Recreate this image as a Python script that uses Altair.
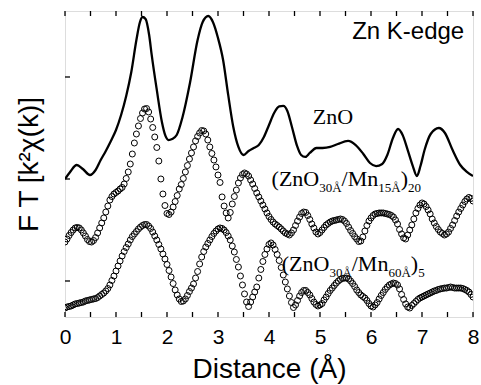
import altair as alt
import pandas as pd

# ---------------- data ----------------
R_STEP = 0.04
r_grid = [round(R_STEP * i, 2) for i in range(201)]  # sampling grid of R (Å)

# (ZnO30Å/Mn15Å)20  – open circles, offset curve
s2_v = [
    0.382, 0.412, 0.446, 0.475, 0.500, 0.520, 0.525, 0.520, 0.500, 0.471,
    0.441, 0.407, 0.387, 0.382, 0.397, 0.426, 0.471, 0.520, 0.569, 0.618,
    0.676, 0.735, 0.794, 0.828, 0.853, 0.868, 0.882, 0.902, 0.917, 0.951,
    1.005, 1.069, 1.147, 1.245, 1.353, 1.441, 1.520, 1.593, 1.647, 1.686,
    1.691, 1.657, 1.588, 1.505, 1.412, 1.309, 1.176, 1.000, 0.853, 0.740,
    0.662, 0.652, 0.676, 0.725, 0.779, 0.838, 0.902, 0.946, 1.005, 1.069,
    1.132, 1.196, 1.255, 1.314, 1.373, 1.417, 1.451, 1.475, 1.471, 1.441,
    1.382, 1.314, 1.250, 1.186, 1.118, 1.039, 0.966, 0.824, 0.735, 0.667,
    0.618, 0.672, 0.755, 0.828, 0.892, 0.961, 1.010, 1.044, 1.059, 1.049,
    1.029, 0.990, 0.951, 0.907, 0.863, 0.824, 0.784, 0.745, 0.706, 0.667,
    0.632, 0.603, 0.578, 0.559, 0.544, 0.529, 0.510, 0.490, 0.471, 0.461,
    0.451, 0.471, 0.500, 0.544, 0.588, 0.627, 0.662, 0.676, 0.672, 0.642,
    0.603, 0.559, 0.520, 0.480, 0.461, 0.475, 0.500, 0.525, 0.549, 0.564,
    0.578, 0.588, 0.593, 0.598, 0.603, 0.608, 0.603, 0.588, 0.564, 0.529,
    0.495, 0.466, 0.436, 0.412, 0.387, 0.392, 0.431, 0.490, 0.544, 0.588,
    0.618, 0.642, 0.657, 0.662, 0.667, 0.667, 0.667, 0.662, 0.657, 0.652,
    0.642, 0.627, 0.598, 0.559, 0.505, 0.461, 0.422, 0.412, 0.451, 0.500,
    0.549, 0.608, 0.667, 0.711, 0.745, 0.765, 0.755, 0.730, 0.696, 0.657,
    0.608, 0.569, 0.534, 0.505, 0.480, 0.466, 0.451, 0.461, 0.480, 0.515,
    0.549, 0.593, 0.637, 0.676, 0.711, 0.745, 0.779, 0.804, 0.819, 0.809,
    0.784,
]

# (ZnO30Å/Mn60Å)5 – open circles, bottom curve
s3_v = [
    -0.265, -0.255, -0.250, -0.245, -0.235, -0.225, -0.221, -0.216, -0.211, -0.206,
    -0.196, -0.191, -0.186, -0.181, -0.176, -0.172, -0.162, -0.147, -0.132, -0.118,
    -0.098, -0.074, -0.039, 0.005, 0.049, 0.098, 0.147, 0.196, 0.245, 0.289,
    0.328, 0.363, 0.402, 0.436, 0.461, 0.485, 0.510, 0.529, 0.544, 0.554,
    0.554, 0.539, 0.515, 0.480, 0.441, 0.402, 0.358, 0.314, 0.265, 0.216,
    0.162, 0.103, 0.039, -0.025, -0.088, -0.137, -0.176, -0.201, -0.196, -0.176,
    -0.142, -0.103, -0.069, -0.029, 0.029, 0.093, 0.167, 0.235, 0.289, 0.333,
    0.368, 0.402, 0.436, 0.466, 0.490, 0.510, 0.520, 0.515, 0.500, 0.475,
    0.441, 0.402, 0.343, 0.284, 0.211, 0.137, 0.049, -0.039, -0.127, -0.206,
    -0.250, -0.206, -0.157, -0.108, -0.059, 0.029, 0.113, 0.191, 0.260, 0.314,
    0.358, 0.373, 0.353, 0.309, 0.260, 0.201, 0.132, 0.059, -0.010, -0.078,
    -0.147, -0.211, -0.260, -0.235, -0.191, -0.147, -0.113, -0.093, -0.093, -0.113,
    -0.137, -0.172, -0.206, -0.230, -0.245, -0.235, -0.221, -0.186, -0.157, -0.123,
    -0.093, -0.069, -0.044, -0.020, 0.000, 0.015, 0.025, 0.029, 0.029, 0.020,
    0.000, -0.025, -0.054, -0.088, -0.113, -0.137, -0.152, -0.167, -0.191, -0.221,
    -0.245, -0.255, -0.235, -0.211, -0.176, -0.142, -0.113, -0.083, -0.059, -0.039,
    -0.029, -0.020, -0.025, -0.039, -0.078, -0.132, -0.181, -0.225, -0.255, -0.265,
    -0.240, -0.221, -0.201, -0.181, -0.167, -0.157, -0.147, -0.137, -0.127, -0.118,
    -0.108, -0.098, -0.093, -0.083, -0.078, -0.074, -0.069, -0.069, -0.064, -0.059,
    -0.064, -0.069, -0.069, -0.069, -0.069, -0.074, -0.083, -0.093, -0.108, -0.132,
    -0.157,
]

# ZnO reference – solid line
zno_r = [0.00, 0.10, 0.23, 0.35, 0.49, 0.60, 0.70, 0.80, 0.90, 1.00,
         1.10, 1.20, 1.30, 1.40, 1.47, 1.52, 1.58, 1.65, 1.70, 1.80,
         1.90, 1.97, 2.03, 2.10, 2.19, 2.30, 2.45, 2.60, 2.70, 2.81,
         2.90, 3.00, 3.10, 3.20, 3.30, 3.40, 3.50, 3.60, 3.70, 3.80,
         3.90, 4.00, 4.10, 4.20, 4.28, 4.36, 4.45, 4.55, 4.63, 4.71,
         4.80, 4.93, 5.05, 5.20, 5.35, 5.55, 5.70, 5.85, 5.98, 6.10,
         6.22, 6.32, 6.43, 6.53, 6.62, 6.72, 6.82, 6.90, 6.97, 7.05,
         7.17, 7.33, 7.45, 7.60, 7.75, 7.88, 8.00]
zno_v = [1.000, 1.069, 1.137, 1.098, 1.039, 1.088, 1.186, 1.275, 1.373, 1.480,
         1.627, 1.814, 2.049, 2.363, 2.539, 2.588, 2.569, 2.412, 2.216, 1.873,
         1.559, 1.422, 1.382, 1.392, 1.431, 1.598, 1.941, 2.363, 2.539, 2.598,
         2.539, 2.382, 2.167, 1.824, 1.510, 1.314, 1.235, 1.275, 1.304, 1.333,
         1.412, 1.529, 1.647, 1.711, 1.716, 1.667, 1.510, 1.324, 1.235, 1.216,
         1.255, 1.304, 1.304, 1.314, 1.343, 1.373, 1.333, 1.245, 1.157, 1.127,
         1.147, 1.235, 1.402, 1.490, 1.431, 1.284, 1.127, 1.029, 1.127, 1.284,
         1.441, 1.500, 1.451, 1.284, 1.137, 1.069, 1.029]

x_ticks = [0, 0.5, 1, 1.5, 2, 2.5, 3, 3.5, 4, 4.5, 5, 5.5, 6, 6.5, 7, 7.5, 8]
x_labels = [0, 1, 2, 3, 4, 5, 6, 7, 8]
y_ticks = [0, 1, 2]
y_domain = [-0.353, 2.647]

# annotations anchored at data coordinates
znO_label = {"r": 4.86, "v": 1.54, "text": "ZnO"}
edge_label = {"r": 5.63, "v": 2.37, "text": "Zn K-edge"}
lbl2_anchor = (4.05, 0.93)
lbl2_pieces = [("(ZnO", "main"), ("30Å", "sub"), ("/Mn", "main"),
               ("15Å", "sub"), (")", "main"), ("20", "sub")]
lbl3_anchor = (4.25, 0.10)
lbl3_pieces = [("(ZnO", "main"), ("30Å", "sub"), ("/Mn", "main"),
               ("60Å", "sub"), (")", "main"), ("5", "sub")]

assert len(s2_v) == len(r_grid) and len(s3_v) == len(r_grid)
assert len(zno_r) == len(zno_v)

# ---------------- chart ----------------
W, H = 408, 306
SANS = "Liberation Sans"
SERIF = "Liberation Serif"
MAIN_FS, SUB_FS, SUB_DY = 22, 13, 6

xscale = alt.Scale(domain=[0, 8], nice=False, zero=False)
yscale = alt.Scale(domain=y_domain, nice=False, zero=False)

xaxis = alt.Axis(values=x_labels, ticks=False, domain=False, grid=False,
                 labelFont=SANS, labelFontSize=21, labelColor="black",
                 labelPadding=9, labelFlush=False,
                 title="Distance (Å)", titleFont=SANS, titleFontSize=28,
                 titleFontWeight="normal", titleColor="black", titlePadding=8)
yaxis = alt.Axis(labels=False, ticks=False, domain=False, grid=False,
                 title="F T [k²χ(k)]", titleFont=SANS, titleFontSize=28,
                 titleFontWeight="normal", titleColor="black", titlePadding=22)

X = alt.X("r:Q", scale=xscale, axis=xaxis)
Y = alt.Y("v:Q", scale=yscale, axis=yaxis)

zno_df = pd.DataFrame({"r": zno_r, "v": zno_v})
s2_df = pd.DataFrame({"r": r_grid, "v": s2_v})
s3_df = pd.DataFrame({"r": r_grid, "v": s3_v})

zno_line = alt.Chart(zno_df).mark_line(
    color="black", strokeWidth=2.3, interpolate="monotone", clip=True
).encode(x=X, y=Y)

def circles(df):
    return alt.Chart(df).mark_point(
        shape="circle", size=36, filled=False, stroke="black",
        strokeWidth=1, opacity=1, clip=True
    ).encode(x=X, y=Y)

xt_df = pd.DataFrame({"r": x_ticks})
yt_df = pd.DataFrame({"v": y_ticks})
bottom_ticks = alt.Chart(xt_df).mark_rule(color="black", strokeWidth=1.3).encode(
    x=X, y=alt.value(H), y2=alt.value(H - 5))
top_ticks = alt.Chart(xt_df).mark_rule(color="black", strokeWidth=1.3).encode(
    x=X, y=alt.value(0), y2=alt.value(5))
left_ticks = alt.Chart(yt_df).mark_rule(color="black", strokeWidth=1.3).encode(
    y=Y, x=alt.value(0), x2=alt.value(5))

layers = [zno_line, circles(s2_df), circles(s3_df), bottom_ticks, top_ticks, left_ticks]

def text_layer(r, v, txt, font, size, dx=0, dy=0):
    df = pd.DataFrame({"r": [r], "v": [v], "t": [txt]})
    return alt.Chart(df).mark_text(
        font=font, fontSize=size, align="left", baseline="alphabetic",
        fill="#000000", dx=dx, dy=dy
    ).encode(x=X, y=Y, text="t:N")

layers.append(text_layer(znO_label["r"], znO_label["v"], znO_label["text"], SERIF, MAIN_FS))
layers.append(text_layer(edge_label["r"], edge_label["v"], edge_label["text"], SANS, 24))

# Times-like advance widths (em) to place subscript pieces one after another
TW = {"(": 0.333, ")": 0.333, "Z": 0.611, "n": 0.5, "O": 0.722, "/": 0.278,
      "M": 0.889, "Å": 0.722}
def adv(txt, size):
    return sum(TW.get(c, 0.5) for c in txt) * size

for (ar, av), pieces in [(lbl2_anchor, lbl2_pieces), (lbl3_anchor, lbl3_pieces)]:
    off = 0.0
    for txt, kind in pieces:
        fs = MAIN_FS if kind == "main" else SUB_FS
        dy = 0 if kind == "main" else SUB_DY
        layers.append(text_layer(ar, av, txt, SERIF, fs, dx=round(off, 1), dy=dy))
        off += adv(txt, fs)

chart = alt.layer(*layers).properties(
    width=W, height=H,
    autosize=alt.AutoSizeParams(type="none"),
    padding={"left": 65, "top": 11, "right": 8, "bottom": 68},
).configure_view(stroke="black", strokeWidth=1.6).configure(background="white")

chart.save("out.html", embed_options={"renderer": "svg", "actions": False})
